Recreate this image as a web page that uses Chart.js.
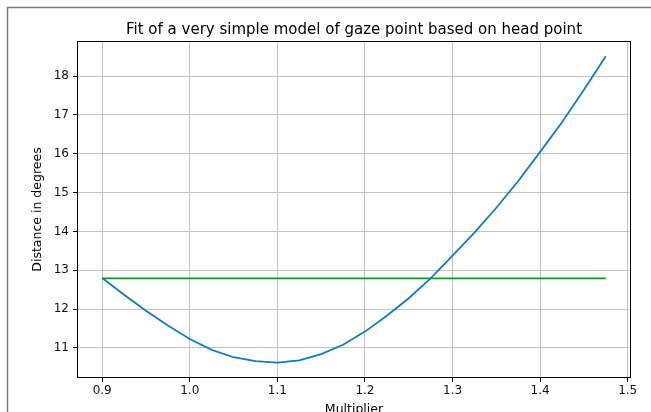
<!DOCTYPE html>
<html>
<head>
<meta charset="utf-8">
<title>Gaze fit</title>
<script src="https://cdn.jsdelivr.net/npm/chart.js@4.4.1/dist/chart.umd.min.js"></script>
<style>
  html, body { margin: 0; padding: 0; background: #fff; }
  #wrap { width: 651px; height: 412px; }
</style>
</head>
<body>
<div id="wrap"><canvas id="myChart" width="651" height="412"></canvas></div>
<script>
//========================= Data ==================================//
const multipliers = [0.9, 0.925, 0.95, 0.975, 1.0, 1.025, 1.05, 1.075, 1.1, 1.125, 1.15, 1.175,
  1.2, 1.225, 1.25, 1.275, 1.3, 1.325, 1.35, 1.375, 1.4, 1.425, 1.45, 1.475];
const distances = [12.80, 12.37, 11.96, 11.58, 11.23, 10.95, 10.76, 10.66, 10.62, 10.68, 10.84, 11.08,
  11.42, 11.83, 12.28, 12.79, 13.38, 13.97, 14.61, 15.30, 16.05, 16.81, 17.65, 18.51];
const baselineX = [0.9, 1.475];
const baselineY = [12.79, 12.79];

const xTicks = [0.9, 1.0, 1.1, 1.2, 1.3, 1.4, 1.5];
const yTicks = [11, 12, 13, 14, 15, 16, 17, 18];

const titleText = 'Fit of a very simple model of gaze point based on head point';
const xLabel = 'Multiplier';
const yLabel = 'Distance in degrees';

/***************************************************************
* Helpers
****************************************************************/
function padded(arr) {
  const lo = Math.min(...arr), hi = Math.max(...arr);
  const m = (hi - lo) * 0.05;
  return { min: lo - m, max: hi + m };
}
const xr = padded(multipliers);
const yr = padded(distances);
const FONT = '"DejaVu Sans", sans-serif';

/***************************************************************
* Frame, spines and texts
****************************************************************/
const decor = {
  id: 'decor',
  beforeDraw(chart) {
    const c = chart.ctx;
    c.save();
    c.fillStyle = '#fff';
    c.fillRect(0, 0, chart.width, chart.height);
    c.strokeStyle = '#7a7a7a';
    c.lineWidth = 1.5;
    c.beginPath();
    c.moveTo(7.5, chart.height);
    c.lineTo(7.5, 7.5);
    c.lineTo(chart.width, 7.5);
    c.stroke();
    c.restore();
  },
  afterDraw(chart) {
    const a = chart.chartArea;
    const c = chart.ctx;
    c.save();
    c.strokeStyle = '#000';
    c.lineWidth = 1;
    c.strokeRect(a.left + 0.5, a.top + 0.5, a.right - a.left - 1, a.bottom - a.top - 1);

    c.fillStyle = '#000';
    c.textAlign = 'center';
    c.textBaseline = 'alphabetic';
    c.font = '15px ' + FONT;
    c.fillText(titleText, (a.left + a.right) / 2, a.top - 7);

    c.font = '12.5px ' + FONT;
    c.textBaseline = 'top';
    c.fillText(xLabel, (a.left + a.right) / 2, a.bottom + 25);

    c.translate(38, (a.top + a.bottom) / 2);
    c.rotate(-Math.PI / 2);
    c.textBaseline = 'middle';
    c.fillText(yLabel, 0, 0);
    c.restore();
  }
};

/***************************************************************
* Line Chart
****************************************************************/
const ctx = document.getElementById('myChart').getContext('2d');

const myChart = new Chart(ctx, {
  type: 'line',
  data: {
    datasets: [{
      data: multipliers.map((m, i) => ({ x: m, y: distances[i] })),
      borderColor: '#127cc0',
      borderWidth: 1.8,
      pointRadius: 0,
      tension: 0
    }, {
      data: baselineX.map((m, i) => ({ x: m, y: baselineY[i] })),
      borderColor: '#119a2e',
      borderWidth: 1.8,
      pointRadius: 0
    }]
  },
  options: {
    responsive: false,
    devicePixelRatio: 1,
    animation: false,
    layout: { padding: { top: 41, right: 20, left: 0, bottom: 0 } },
    plugins: {
      legend: { display: false },
      tooltip: { enabled: false },
      title: { display: false }
    },
    scales: {
      x: {
        type: 'linear',
        min: xr.min,
        max: xr.max,
        afterBuildTicks: s => { s.ticks = xTicks.map(v => ({ value: v })); },
        afterFit: s => { s.height = 34; },
        border: { display: false },
        grid: { color: '#c4c4c4', lineWidth: 1, tickColor: '#000', tickLength: 4 },
        ticks: {
          color: '#111',
          padding: 2,
          maxRotation: 0,
          font: { family: FONT, size: 12 },
          callback: v => v.toFixed(1)
        }
      },
      y: {
        min: yr.min,
        max: yr.max,
        afterBuildTicks: s => { s.ticks = yTicks.map(v => ({ value: v })); },
        afterFit: s => { s.width = 77; },
        border: { display: false },
        grid: { color: '#c4c4c4', lineWidth: 1, tickColor: '#000', tickLength: 4 },
        ticks: {
          color: '#111',
          padding: 4,
          font: { family: FONT, size: 12 },
          callback: v => String(v)
        }
      }
    }
  },
  plugins: [decor]
});
</script>
</body>
</html>
